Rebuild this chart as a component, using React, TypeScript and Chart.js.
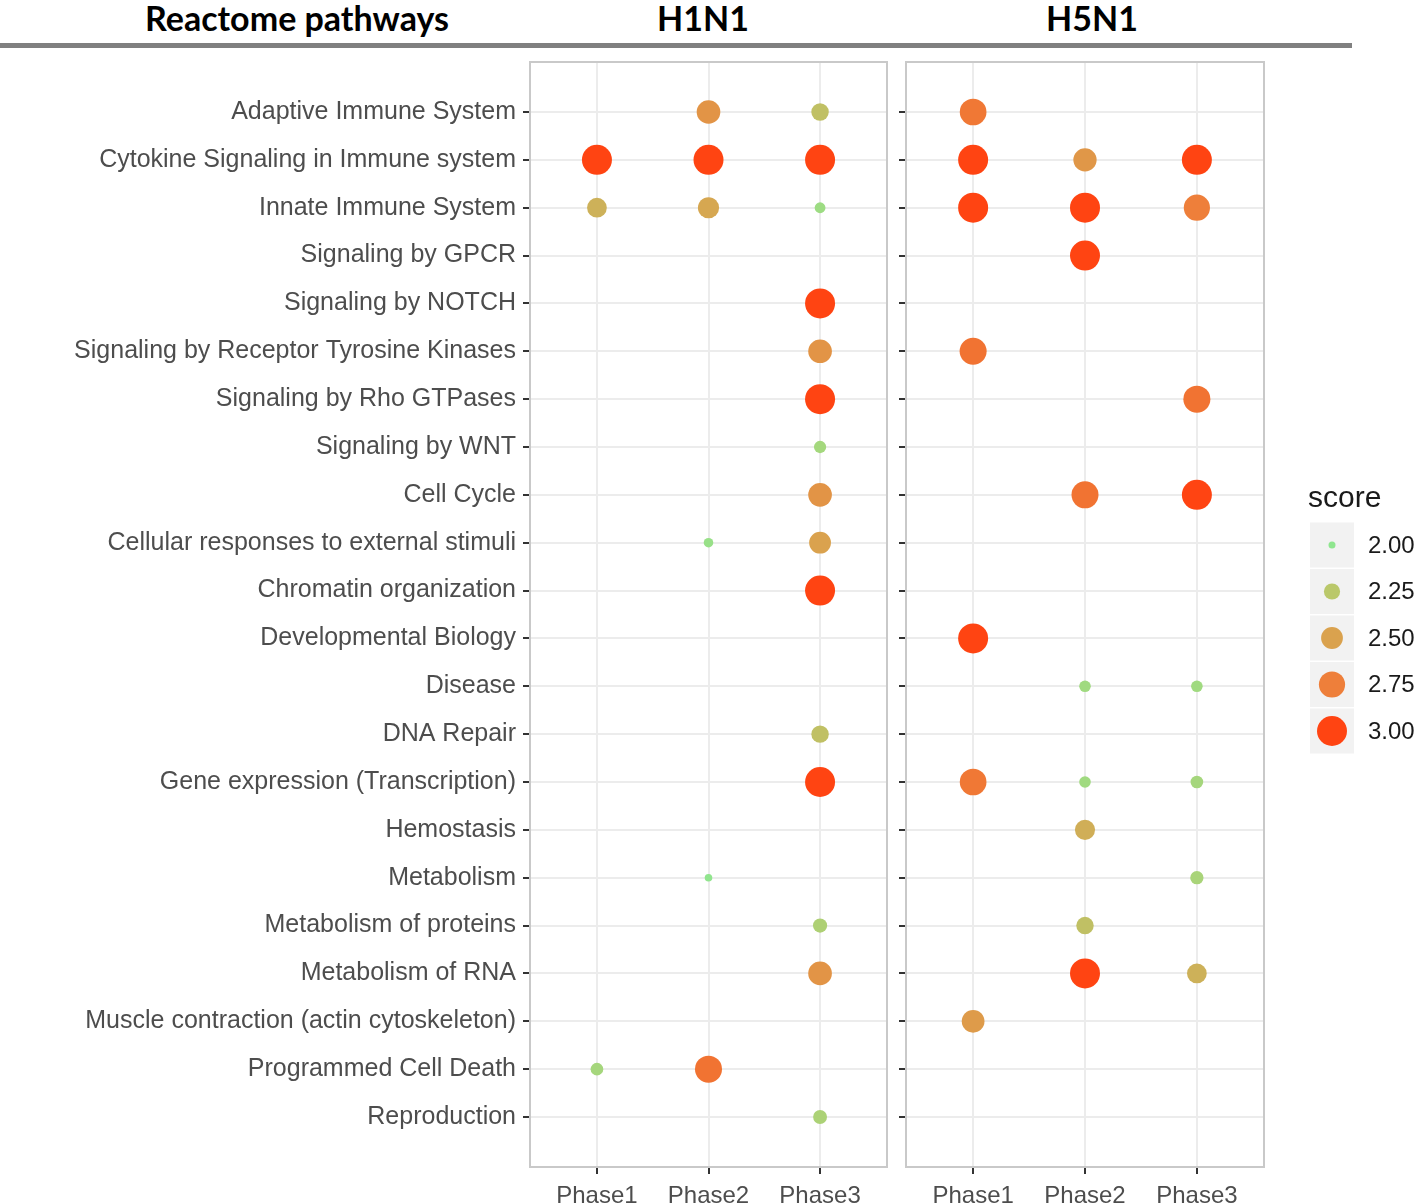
import React, { useEffect, useRef } from "react";
import { Chart, registerables } from "chart.js";
Chart.register(...registerables);

const pathways = [
  "Adaptive Immune System",
  "Cytokine Signaling in Immune system",
  "Innate Immune System",
  "Signaling by GPCR",
  "Signaling by NOTCH",
  "Signaling by Receptor Tyrosine Kinases",
  "Signaling by Rho GTPases",
  "Signaling by WNT",
  "Cell Cycle",
  "Cellular responses to external stimuli",
  "Chromatin organization",
  "Developmental Biology",
  "Disease",
  "DNA Repair",
  "Gene expression (Transcription)",
  "Hemostasis",
  "Metabolism",
  "Metabolism of proteins",
  "Metabolism of RNA",
  "Muscle contraction (actin cytoskeleton)",
  "Programmed Cell Death",
  "Reproduction",
];

const phases = ["Phase1", "Phase2", "Phase3"];

const h1n1Phase1 = [null, 3.0, 2.4, null, null, null, null, null, null, null, null, null, null, null, null, null, null, null, null, null, 2.13, null];
const h1n1Phase2 = [2.6, 3.0, 2.47, null, null, null, null, null, null, 2.05, null, null, null, null, null, null, 2.01, null, null, null, 2.8, null];
const h1n1Phase3 = [2.3, 3.0, 2.08, null, 3.0, 2.6, 3.0, 2.12, 2.6, 2.5, 3.0, null, null, 2.3, 3.0, null, null, 2.18, 2.6, null, null, 2.17];
const h5n1Phase1 = [2.78, 3.0, 3.0, null, null, 2.8, null, null, null, null, null, 3.0, null, null, 2.78, null, null, null, null, 2.55, null, null];
const h5n1Phase2 = [null, 2.58, 3.0, 3.0, null, null, null, null, 2.8, null, null, null, 2.1, null, 2.1, 2.42, null, 2.3, 3.0, null, null, null];
const h5n1Phase3 = [null, 3.0, 2.75, null, null, null, 2.8, null, 3.0, null, null, null, 2.1, null, 2.13, null, 2.15, null, 2.4, null, null, null];

const legendScores = [2.0, 2.25, 2.5, 2.75, 3.0];
const scoreColors = ["#8fe68f", "#bac86a", "#daa24e", "#ee7f3a", "#ff4412"];

const SCORE_MIN = 2.0;
const SCORE_MAX = 3.0;
const R_MIN = 3.5;
const R_MAX = 15;

function hexToRgb(h: string) {
  const n = parseInt(h.slice(1), 16);
  return [(n >> 16) & 255, (n >> 8) & 255, n & 255];
}

function scoreColor(v: number) {
  const t = Math.max(0, Math.min(1, (v - SCORE_MIN) / (SCORE_MAX - SCORE_MIN)));
  const seg = t * (scoreColors.length - 1);
  const i = Math.min(scoreColors.length - 2, Math.floor(seg));
  const f = seg - i;
  const a = hexToRgb(scoreColors[i]);
  const b = hexToRgb(scoreColors[i + 1]);
  const c = a.map((x, k) => Math.round(x + (b[k] - x) * f));
  return `rgb(${c[0]},${c[1]},${c[2]})`;
}

function scoreRadius(v: number) {
  const t = Math.max(0, Math.min(1, (v - SCORE_MIN) / (SCORE_MAX - SCORE_MIN)));
  return Math.sqrt(R_MIN * R_MIN + (R_MAX * R_MAX - R_MIN * R_MIN) * t);
}

const AXIS_FONT = "'Liberation Sans', Arial, sans-serif";

const panelBorder = {
  id: "panelBorder",
  beforeDatasetsDraw(chart: any) {
    const { ctx, chartArea: a } = chart;
    ctx.save();
    ctx.strokeStyle = "#c9c9c9";
    ctx.lineWidth = 2;
    ctx.strokeRect(a.left, a.top, a.right - a.left, a.bottom - a.top);
    ctx.restore();
  },
};

const scoreLegend = {
  id: "scoreLegend",
  afterDraw(chart: any) {
    const { ctx } = chart;
    const x0 = 422; // canvas coords
    ctx.save();
    ctx.fillStyle = "#1a1a1a";
    ctx.font = `30px ${AXIS_FONT}`;
    ctx.textBaseline = "alphabetic";
    ctx.textAlign = "left";
    ctx.fillText("score", x0 - 2, 457);
    legendScores.forEach((s, i) => {
      const cy = 495 + i * 46.5;
      ctx.fillStyle = "#f2f2f2";
      ctx.fillRect(x0, cy - 22.5, 44, 45);
      ctx.beginPath();
      ctx.fillStyle = scoreColor(s);
      ctx.arc(x0 + 22, cy, scoreRadius(s), 0, Math.PI * 2);
      ctx.fill();
      ctx.fillStyle = "#1a1a1a";
      ctx.font = `24px ${AXIS_FONT}`;
      ctx.textBaseline = "middle";
      ctx.fillText(s.toFixed(2), x0 + 58, cy + 1);
    });
    ctx.restore();
  },
};

function buildPoints(series: (number | null)[][]) {
  const pts: { x: number; y: number; v: number }[] = [];
  series.forEach((arr, p) => {
    arr.forEach((v, r) => {
      if (v !== null && v !== undefined) pts.push({ x: p + 1, y: r, v });
    });
  });
  return pts;
}

function zeroPad(s: any) {
  s.paddingLeft = 0;
  s.paddingRight = 0;
  s.paddingTop = 0;
  s.paddingBottom = 0;
}

function makeConfig(series: (number | null)[][], showLabels: boolean, yWidth: number, padRight: number, withLegend: boolean) {
  return {
    type: "scatter" as const,
    data: {
      datasets: [
        {
          data: buildPoints(series),
          pointRadius: (c: any) => scoreRadius(c.raw.v),
          pointHoverRadius: (c: any) => scoreRadius(c.raw.v),
          pointBackgroundColor: (c: any) => scoreColor(c.raw.v),
          pointBorderWidth: 0,
          pointBorderColor: "rgba(0,0,0,0)",
          clip: false,
        },
      ],
    },
    options: {
      responsive: false,
      animation: false,
      devicePixelRatio: 1,
      layout: { autoPadding: false, padding: { top: 12, right: padRight, left: 0, bottom: 0 } },
      plugins: { legend: { display: false }, tooltip: { enabled: false } },
      scales: {
        x: {
          type: "linear",
          min: 0.4,
          max: 3.6,
          afterBuildTicks: (s: any) => {
            s.ticks = phases.map((_, i) => ({ value: i + 1 }));
          },
          afterFit: (s: any) => {
            s.height = 37;
            zeroPad(s);
          },
          ticks: {
            autoSkip: false,
            maxRotation: 0,
            padding: 8,
            color: "#4d4d4d",
            font: { family: AXIS_FONT, size: 24 },
            callback: (v: any) => phases[Math.round(v) - 1] ?? "",
          },
          grid: { color: "#ececec", lineWidth: 2, tickLength: 7, tickColor: "#333333", tickWidth: 2 },
          border: { display: false },
        },
        y: {
          type: "linear",
          reverse: true,
          min: -1.045,
          max: 22.045,
          afterBuildTicks: (s: any) => {
            s.ticks = pathways.map((_, i) => ({ value: i }));
          },
          afterFit: (s: any) => {
            s.width = yWidth;
            zeroPad(s);
          },
          ticks: {
            autoSkip: false,
            padding: 7,
            color: "#4d4d4d",
            font: { family: AXIS_FONT, size: 25 },
            callback: (v: any) => (showLabels ? pathways[Math.round(v)] ?? "" : ""),
          },
          grid: { color: "#ececec", lineWidth: 2, tickLength: 7, tickColor: "#333333", tickWidth: 2 },
          border: { display: false },
        },
      },
    },
    plugins: withLegend ? [panelBorder, scoreLegend] : [panelBorder],
  };
}

export default function App() {
  const leftRef = useRef<HTMLCanvasElement>(null);
  const rightRef = useRef<HTMLCanvasElement>(null);

  useEffect(() => {
    const c1 = new Chart(leftRef.current as HTMLCanvasElement, makeConfig([h1n1Phase1, h1n1Phase2, h1n1Phase3], true, 530, 3, false) as any);
    const c2 = new Chart(rightRef.current as HTMLCanvasElement, makeConfig([h5n1Phase1, h5n1Phase2, h5n1Phase3], false, 18, 160, true) as any);
    return () => {
      c1.destroy();
      c2.destroy();
    };
  }, []);

  const head: React.CSSProperties = {
    position: "absolute",
    top: -2,
    fontFamily: "Lato, 'Open Sans', sans-serif",
    fontWeight: 700,
    fontSize: 34,
    lineHeight: "40px",
    color: "#000",
    transform: "translateX(-50%)",
    whiteSpace: "nowrap",
  };

  return (
    <div style={{ position: "absolute", left: 0, top: 0, width: 1424, height: 1204, background: "#fff", overflow: "hidden" }}>
      <div style={{ ...head, left: 297 }}>Reactome pathways</div>
      <div style={{ ...head, left: 703 }}>H1N1</div>
      <div style={{ ...head, left: 1092 }}>H5N1</div>
      <div style={{ position: "absolute", left: 0, top: 43, width: 1352, height: 5, background: "#808080" }} />
      <canvas ref={leftRef} width={890} height={1154} style={{ position: "absolute", left: 0, top: 50, width: 890, height: 1154 }} />
      <canvas ref={rightRef} width={536} height={1154} style={{ position: "absolute", left: 888, top: 50, width: 536, height: 1154 }} />
    </div>
  );
}
